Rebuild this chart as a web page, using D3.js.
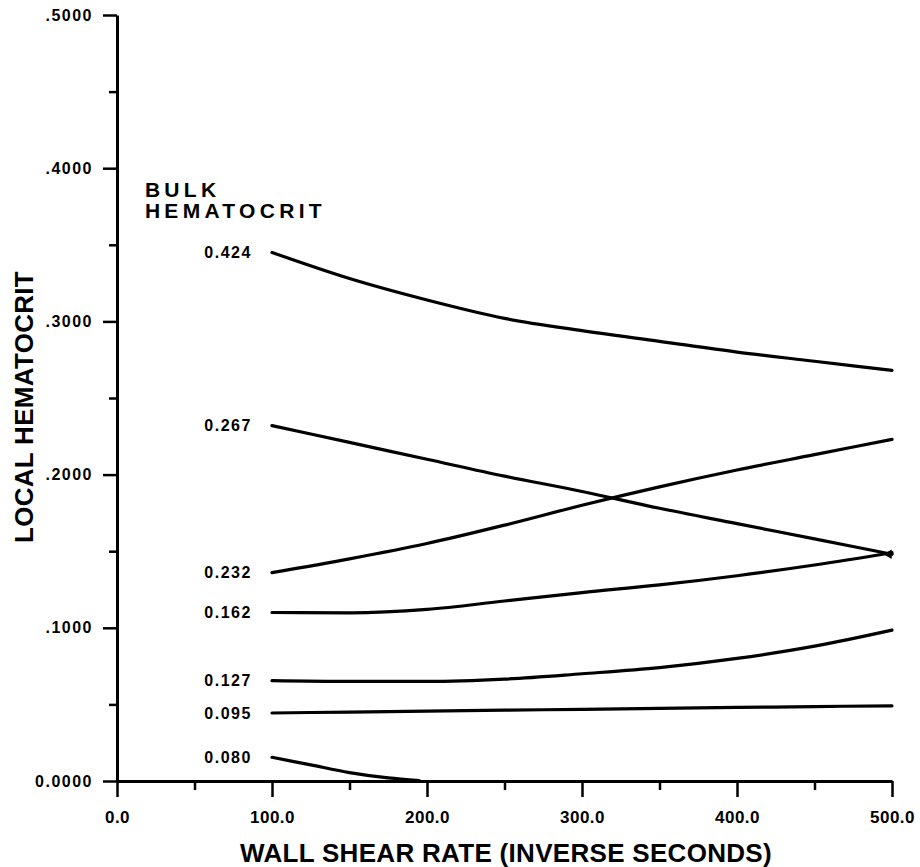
<!DOCTYPE html>
<html>
<head>
<meta charset="utf-8">
<script src="https://cdn.jsdelivr.net/npm/d3@7"></script>
<style>
  html, body { margin: 0; padding: 0; background: #ffffff; }
  svg { display: block; }
  text { font-family: "Liberation Sans", Arial, Helvetica, sans-serif; font-weight: bold; fill: #000; }
</style>
</head>
<body>
<svg id="chart" width="920" height="867"></svg>
<script>
// ---- data ----
const shearRate = [100, 150, 200, 250, 300, 350, 400, 450, 500];
const shearRate080 = [100, 125, 150, 175, 195];

const bulkLabels = ["0.424", "0.267", "0.232", "0.162", "0.127", "0.095", "0.080"];
const h424 = [0.345, 0.328, 0.314, 0.302, 0.294, 0.287, 0.280, 0.274, 0.268];
const h267 = [0.232, 0.221, 0.210, 0.199, 0.189, 0.178, 0.168, 0.158, 0.148];
const h232 = [0.136, 0.145, 0.155, 0.167, 0.180, 0.192, 0.203, 0.213, 0.223];
const h162 = [0.110, 0.1098, 0.112, 0.1175, 0.123, 0.128, 0.134, 0.141, 0.149];
const h127 = [0.0655, 0.065, 0.065, 0.0665, 0.070, 0.074, 0.080, 0.088, 0.0985];
const h095 = [0.0444, 0.0450, 0.0456, 0.0462, 0.0468, 0.0474, 0.0480, 0.0486, 0.0491];
const h080 = [0.0155, 0.0105, 0.0055, 0.002, 0.0003];

const xMajorTicks = [0, 100, 200, 300, 400, 500];
const xMinorTicks = [50, 150, 250, 350, 450];
const yMajorTicks = [0, 0.1, 0.2, 0.3, 0.4, 0.5];
const yMinorTicks = [0.05, 0.15, 0.25, 0.35, 0.45];

const xTitle = "WALL SHEAR RATE (INVERSE SECONDS)";
const yTitle = "LOCAL HEMATOCRIT";
const legendTitle = ["BULK", "HEMATOCRIT"];

// ---- build series ----
const seriesList = [
  { label: bulkLabels[0], xs: shearRate, ys: h424 },
  { label: bulkLabels[1], xs: shearRate, ys: h267, arrow: true },
  { label: bulkLabels[2], xs: shearRate, ys: h232 },
  { label: bulkLabels[3], xs: shearRate, ys: h162 },
  { label: bulkLabels[4], xs: shearRate, ys: h127 },
  { label: bulkLabels[5], xs: shearRate, ys: h095 },
  { label: bulkLabels[6], xs: shearRate080, ys: h080 }
].map(s => ({ ...s, pts: s.xs.map((x, i) => [x, s.ys[i]]) }));

const svg = d3.select("#chart");
const x = d3.scaleLinear().domain([0, 500]).range([117, 892]);
const y = d3.scaleLinear().domain([0, 0.5]).range([781, 15]);

const fmtY = d => d === 0 ? "0.0000" : d3.format(".4f")(d).replace(/^0/, "");
const fmtX = d3.format(".1f");
const FONT = '"Liberation Sans", Arial, sans-serif';

// y axis
const gy = svg.append("g").attr("transform", `translate(${x(0)},0)`);
gy.call(d3.axisLeft(y).tickValues(yMajorTicks).tickSize(14).tickSizeOuter(0).tickPadding(10).tickFormat(fmtY));
const gyMinor = svg.append("g").attr("transform", `translate(${x(0)},0)`);
gyMinor.call(d3.axisLeft(y).tickValues(yMinorTicks).tickSize(8).tickSizeOuter(0).tickFormat(""));
gyMinor.select(".domain").remove();

// x axis
const gx = svg.append("g").attr("transform", `translate(0,${y(0)})`);
gx.call(d3.axisBottom(x).tickValues(xMajorTicks).tickSize(16).tickSizeOuter(0).tickPadding(14).tickFormat(fmtX));
const gxMinor = svg.append("g").attr("transform", `translate(0,${y(0)})`);
gxMinor.call(d3.axisBottom(x).tickValues(xMinorTicks).tickSize(9).tickSizeOuter(0).tickFormat(""));
gxMinor.select(".domain").remove();

svg.selectAll(".domain").attr("stroke", "#000").attr("stroke-width", 3);
svg.selectAll(".tick line").attr("stroke", "#000").attr("stroke-width", 2.5);
gy.selectAll(".tick text").style("font-size", "16px").style("letter-spacing", "1.5px")
  .style("font-family", FONT).style("font-weight", "bold");
gx.selectAll(".tick text").style("font-size", "17px").style("letter-spacing", "0.5px")
  .style("font-family", FONT).style("font-weight", "bold");

// curves
const line = d3.line().x(d => x(d[0])).y(d => y(d[1])).curve(d3.curveMonotoneX);
svg.append("g").selectAll("path.curve").data(seriesList).join("path")
  .attr("class", "curve")
  .attr("d", d => line(d.pts))
  .attr("fill", "none")
  .attr("stroke", "#000")
  .attr("stroke-width", 3.2)
  .attr("stroke-linecap", "round");

// small arrowhead artifact at the end of 0.267 curve
svg.append("g").selectAll("path.arrow").data(seriesList.filter(s => s.arrow)).join("path")
  .attr("class", "arrow")
  .attr("d", d3.symbol().type(d3.symbolTriangle).size(40))
  .attr("transform", d => {
    const p = d.pts[d.pts.length - 1];
    return `translate(${x(p[0]) - 3},${y(p[1])}) rotate(-90)`;
  })
  .attr("fill", "#000");

// series labels
svg.append("g").selectAll("text.slabel").data(seriesList).join("text")
  .attr("class", "slabel")
  .attr("x", x(87))
  .attr("y", d => y(d.ys[0]))
  .attr("dy", "0.36em")
  .attr("text-anchor", "end")
  .style("font-size", "16px")
  .style("letter-spacing", "1.5px")
  .text(d => d.label);

// legend title
svg.append("g").selectAll("text.ltitle").data(legendTitle).join("text")
  .attr("class", "ltitle")
  .attr("x", x(18))
  .attr("y", (d, i) => 197 + i * 21)
  .style("font-size", "21px")
  .style("letter-spacing", "4.3px")
  .text(d => d);

// axis titles
svg.append("text")
  .attr("x", 506)
  .attr("y", 862)
  .attr("text-anchor", "middle")
  .style("font-size", "26px")
  .style("letter-spacing", "0.3px")
  .text(xTitle);

svg.append("text")
  .attr("transform", "translate(33,407) rotate(-90)")
  .attr("text-anchor", "middle")
  .style("font-size", "26px")
  .style("letter-spacing", "0.3px")
  .text(yTitle);
</script>
</body>
</html>
